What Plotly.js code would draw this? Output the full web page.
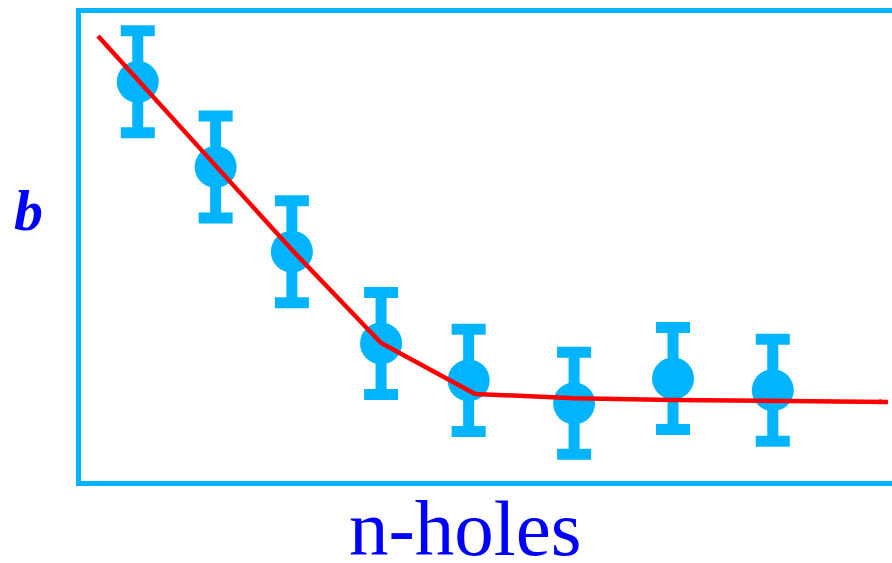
<!DOCTYPE html>
<html>
<head>
<meta charset="utf-8">
<script src="https://cdn.plot.ly/plotly-3.0.1.min.js"></script>
<style>
  html, body { margin: 0; padding: 0; background: #ffffff; }
  #chart { width: 892px; height: 563px; }
</style>
</head>
<body>
<div id="chart"></div>
<script>
// Measured b for each n-holes setting (arbitrary units), with its uncertainty
const holeX = [0.70, 1.66, 2.60, 3.70, 4.78, 6.08, 7.30, 8.53];
const bValue = [8.53, 6.71, 4.90, 2.94, 2.15, 1.66, 2.19, 1.94];
const bError = [1.09, 1.09, 1.09, 1.09, 1.09, 1.09, 1.09, 1.09];

// Trend curve drawn through the measurements
const trendX = [0.21, 1.66, 2.60, 3.70, 4.86, 6.08, 7.30, 9.95];
const trendY = [9.51, 6.73, 4.94, 2.95, 1.86, 1.77, 1.73, 1.69];

const xTitle = 'n-holes';
const yTitle = 'b';

const BLUE = '#00B4FF';
const RED = '#FF0000';

const data = [
  {
    type: 'scatter',
    mode: 'markers',
    x: holeX,
    y: bValue,
    marker: { symbol: 'circle', size: 42, color: BLUE, line: { width: 0 } },
    error_y: {
      type: 'data',
      array: bError,
      visible: true,
      color: BLUE,
      thickness: 11,
      width: 17
    },
    hoverinfo: 'skip'
  },
  {
    type: 'scatter',
    mode: 'lines',
    x: trendX,
    y: trendY,
    line: { color: RED, width: 4.5 },
    hoverinfo: 'skip'
  },
  {
    // small arrow head at the end of the trend curve
    type: 'scatter',
    mode: 'markers',
    x: trendX.slice(-2),
    y: trendY.slice(-2),
    marker: {
      symbol: 'arrow',
      angleref: 'previous',
      size: 9,
      color: RED,
      opacity: [0, 1]
    },
    hoverinfo: 'skip'
  }
];

const axisCommon = {
  showline: true,
  mirror: true,
  linewidth: 5,
  linecolor: BLUE,
  showgrid: false,
  zeroline: false,
  showticklabels: false,
  ticks: '',
  fixedrange: true
};

const layout = {
  width: 892,
  height: 563,
  margin: { l: 81, r: 0, t: 13, b: 82 },
  paper_bgcolor: '#ffffff',
  plot_bgcolor: '#ffffff',
  showlegend: false,
  xaxis: Object.assign({}, axisCommon, { range: [0, 10] }),
  yaxis: Object.assign({}, axisCommon, { range: [0, 10] }),
  annotations: [
    {
      text: xTitle,
      xref: 'paper', yref: 'paper',
      x: 0.4735, y: -0.005,
      xanchor: 'center', yanchor: 'top',
      showarrow: false,
      font: { family: 'Liberation Serif, Times New Roman, serif', size: 79, color: '#0000FF' }
    },
    {
      text: '<b><i>' + yTitle + '</i></b>',
      xref: 'paper', yref: 'paper',
      x: -0.065, y: 0.577,
      xanchor: 'center', yanchor: 'middle',
      showarrow: false,
      font: { family: 'Liberation Serif, Times New Roman, serif', size: 58, color: '#0000FF' }
    }
  ]
};

Plotly.newPlot('chart', data, layout, { displayModeBar: false, staticPlot: true });
</script>
</body>
</html>
